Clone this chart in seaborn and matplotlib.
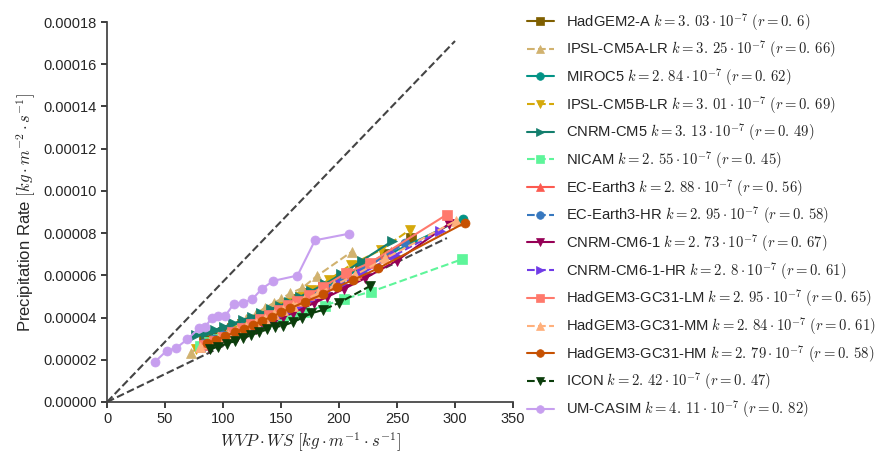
import matplotlib
matplotlib.use("Agg")
import matplotlib.pyplot as plt
from matplotlib.ticker import FormatStrFormatter
import seaborn as sns

sns.set_theme(style="ticks")
plt.rcParams["font.family"] = ["Liberation Sans", "DejaVu Sans"]
plt.rcParams["mathtext.fontset"] = "cm"

# Model names and fit statistics (k in units of 1e-7, r correlation)
models = ["HadGEM2-A", "IPSL-CM5A-LR", "MIROC5", "IPSL-CM5B-LR", "CNRM-CM5",
          "NICAM", "EC-Earth3", "EC-Earth3-HR", "CNRM-CM6-1", "CNRM-CM6-1-HR",
          "HadGEM3-GC31-LM", "HadGEM3-GC31-MM", "HadGEM3-GC31-HM", "ICON", "UM-CASIM"]
k_labels = ["3.03", "3.25", "2.84", "3.01", "3.13", "2.55", "2.88", "2.95", "2.73",
            "2.8", "2.95", "2.84", "2.79", "2.42", "4.11"]
r_labels = ["0.6", "0.66", "0.62", "0.69", "0.49", "0.45", "0.56", "0.58", "0.67",
            "0.61", "0.65", "0.61", "0.58", "0.47", "0.82"]

# Binned WVP*WS (x) and precipitation rate (y, in 1e-5 kg m-2 s-1)
hadgem2a_x = [84, 92, 100, 108, 116, 124, 132, 140, 148, 156, 164, 174, 186, 200, 218, 240, 262]
hadgem2a_y = [2.94, 3.10, 3.30, 3.50, 3.68, 3.88, 4.06, 4.28, 4.48, 4.68, 4.90, 5.15, 5.45, 5.80, 6.35, 7.00, 7.76]

ipsl5a_x = [72, 80, 88, 96, 104, 112, 120, 128, 136, 144, 150, 158, 168, 181, 211]
ipsl5a_y = [2.34, 2.60, 2.86, 3.12, 3.38, 3.64, 3.92, 4.18, 4.45, 4.70, 4.88, 5.15, 5.39, 5.97, 7.12]

miroc5_x = [86, 94, 102, 110, 118, 126, 134, 142, 150, 158, 166, 176, 188, 202, 220, 245, 307]
miroc5_y = [2.70, 2.92, 3.12, 3.34, 3.55, 3.77, 3.98, 4.20, 4.42, 4.64, 4.86, 5.13, 5.46, 5.85, 6.35, 7.05, 8.69]

ipsl5b_x = [77, 85, 93, 101, 109, 117, 125, 133, 141, 149, 157, 166, 176, 191, 210, 236, 261]
ipsl5b_y = [2.51, 2.70, 2.92, 3.14, 3.36, 3.58, 3.80, 4.02, 4.25, 4.48, 4.71, 4.97, 5.30, 5.78, 6.49, 7.20, 8.15]

cnrm5_x = [77, 85, 93, 101, 109, 117, 125, 133, 141, 149, 157, 166, 176, 188, 202, 220, 246]
cnrm5_y = [3.15, 3.28, 3.42, 3.57, 3.72, 3.88, 4.04, 4.21, 4.39, 4.57, 4.76, 4.98, 5.25, 5.60, 6.05, 6.70, 7.63]

nicam_x = [80, 88, 96, 104, 112, 120, 128, 136, 144, 152, 160, 170, 188, 204, 228, 306]
nicam_y = [2.67, 2.82, 2.98, 3.12, 3.27, 3.42, 3.56, 3.70, 3.84, 3.98, 4.12, 4.28, 4.57, 4.88, 5.23, 6.76]

ecearth3_x = [82, 90, 98, 106, 114, 122, 130, 138, 146, 154, 162, 172, 184, 198, 216, 245]
ecearth3_y = [2.70, 2.88, 3.07, 3.26, 3.45, 3.64, 3.84, 4.03, 4.23, 4.43, 4.63, 4.89, 5.20, 5.58, 6.10, 7.10]

ecearth3hr_x = [84, 92, 100, 108, 116, 124, 132, 140, 148, 156, 164, 174, 186, 200, 220, 257]
ecearth3hr_y = [2.81, 2.98, 3.16, 3.35, 3.54, 3.73, 3.93, 4.13, 4.33, 4.53, 4.74, 5.00, 5.32, 5.70, 6.25, 7.52]

cnrm6_x = [88, 96, 104, 112, 120, 128, 136, 144, 152, 160, 168, 178, 190, 204, 222, 250, 295]
cnrm6_y = [2.58, 2.74, 2.92, 3.10, 3.28, 3.46, 3.65, 3.84, 4.03, 4.22, 4.42, 4.67, 4.98, 5.35, 5.85, 6.70, 8.44]

cnrm6hr_x = [86, 94, 102, 110, 118, 126, 134, 142, 150, 158, 166, 176, 188, 202, 220, 248, 287]
cnrm6hr_y = [2.62, 2.79, 2.98, 3.17, 3.36, 3.56, 3.76, 3.96, 4.17, 4.38, 4.59, 4.86, 5.19, 5.58, 6.10, 6.95, 8.10]

gc31lm_x = [84, 92, 100, 108, 116, 124, 132, 140, 148, 156, 164, 174, 186, 206, 227, 293]
gc31lm_y = [2.72, 2.90, 3.10, 3.30, 3.50, 3.70, 3.92, 4.14, 4.36, 4.58, 4.80, 5.08, 5.45, 6.10, 6.60, 8.88]

gc31mm_x = [80, 88, 96, 104, 112, 120, 128, 136, 144, 152, 160, 170, 182, 196, 214, 240, 301]
gc31mm_y = [2.60, 2.78, 2.97, 3.16, 3.35, 3.55, 3.75, 3.95, 4.15, 4.36, 4.57, 4.83, 5.15, 5.52, 6.02, 6.80, 8.59]

gc31hm_x = [86, 94, 102, 110, 118, 126, 134, 142, 150, 158, 171, 186, 198, 212, 234, 309]
gc31hm_y = [2.78, 2.95, 3.12, 3.30, 3.48, 3.66, 3.85, 4.04, 4.24, 4.44, 4.75, 5.10, 5.44, 5.78, 6.34, 8.50]

icon_x = [89, 96, 103, 110, 117, 124, 131, 138, 145, 152, 160, 168, 176, 186, 200, 227]
icon_y = [2.51, 2.62, 2.75, 2.88, 3.02, 3.16, 3.30, 3.44, 3.55, 3.62, 3.78, 3.98, 4.20, 4.36, 4.70, 5.50]

umcasim_x = [41.4, 51.5, 59.5, 69.2, 79.3, 84.7, 90.3, 95.7, 102, 109.2, 117.5, 125.3, 133.4, 143.4, 164.2, 179.3, 208.4]
umcasim_y = [1.91, 2.43, 2.55, 2.97, 3.49, 3.57, 3.97, 4.09, 4.09, 4.64, 4.71, 4.87, 5.36, 5.74, 5.99, 7.66, 7.97]

series_x = [hadgem2a_x, ipsl5a_x, miroc5_x, ipsl5b_x, cnrm5_x, nicam_x, ecearth3_x,
            ecearth3hr_x, cnrm6_x, cnrm6hr_x, gc31lm_x, gc31mm_x, gc31hm_x, icon_x, umcasim_x]
series_y = [hadgem2a_y, ipsl5a_y, miroc5_y, ipsl5b_y, cnrm5_y, nicam_y, ecearth3_y,
            ecearth3hr_y, cnrm6_y, cnrm6hr_y, gc31lm_y, gc31mm_y, gc31hm_y, icon_y, umcasim_y]

# Dashed guide lines through the origin: (x extent, slope)
guide_upper_x = [0, 300]
guide_lower_x = [0, 293]
guide_upper_slope = 5.7e-7
guide_lower_slope = 2.65e-7

colors = ["#7f5f00", "#d1b26f", "#029386", "#d5a90b", "#137e6d", "#5ef59a", "#fc5a50",
          "#3778bf", "#960056", "#703be7", "#ff796c", "#ffb07c", "#c65102", "#0b3d0b", "#c79fef"]
markers = ["s", "^", "o", "v", ">", "s", "^", "o", "v", ">", "s", "^", "o", "v", "o"]

fig = plt.figure(figsize=(8.81, 4.53), dpi=100)
ax = fig.add_axes([0.1215, 0.1126, 0.4608, 0.8388])

for gx, slope in ((guide_upper_x, guide_upper_slope), (guide_lower_x, guide_lower_slope)):
    sns.lineplot(x=gx, y=[g * slope for g in gx], ax=ax, color="#444444",
                 linestyle="--", linewidth=1.5, legend=False)


def math_num(s):
    # cm-style number with the wide decimal point used in the labels
    return s.replace(".", r".\,")


for i, name in enumerate(models):
    ls = "-" if i % 2 == 0 else "--"
    label = (name + r" $k = " + math_num(k_labels[i]) + r" \cdot 10^{-7}$ $(r = "
             + math_num(r_labels[i]) + ")$")
    sns.lineplot(x=series_x[i], y=[v * 1e-5 for v in series_y[i]], ax=ax,
                 color=colors[i], linestyle=ls, linewidth=1.5, marker=markers[i],
                 markersize=6.5, markeredgecolor=colors[i], markeredgewidth=0.5,
                 label=label)

ax.set_xlim(0, 350)
ax.set_ylim(0, 0.00018)
ax.set_xticks(range(0, 351, 50))
ax.set_yticks([i * 0.00002 for i in range(10)])
ax.yaxis.set_major_formatter(FormatStrFormatter("%.5f"))
ax.tick_params(labelsize=10.5, colors="#262626", length=4)
ax.set_xlabel(r"$WVP \cdot WS$ $[kg \cdot m^{-1} \cdot s^{-1}]$", fontsize=12, labelpad=3)
ax.set_ylabel(r"Precipitation Rate $[kg \cdot m^{-2} \cdot s^{-1}]$", fontsize=12)
sns.despine(ax=ax)
for sp in ("left", "bottom"):
    ax.spines[sp].set_linewidth(1.25)
    ax.spines[sp].set_color("#404040")

ax.legend(loc="upper left", bbox_to_anchor=(1.034, 1.03), frameon=False, fontsize=10.6,
          handlelength=1.85, handletextpad=0.8, labelspacing=0.39, borderpad=0,
          borderaxespad=0, numpoints=1, markerscale=0.85)

fig.savefig("out.png", dpi=100)
